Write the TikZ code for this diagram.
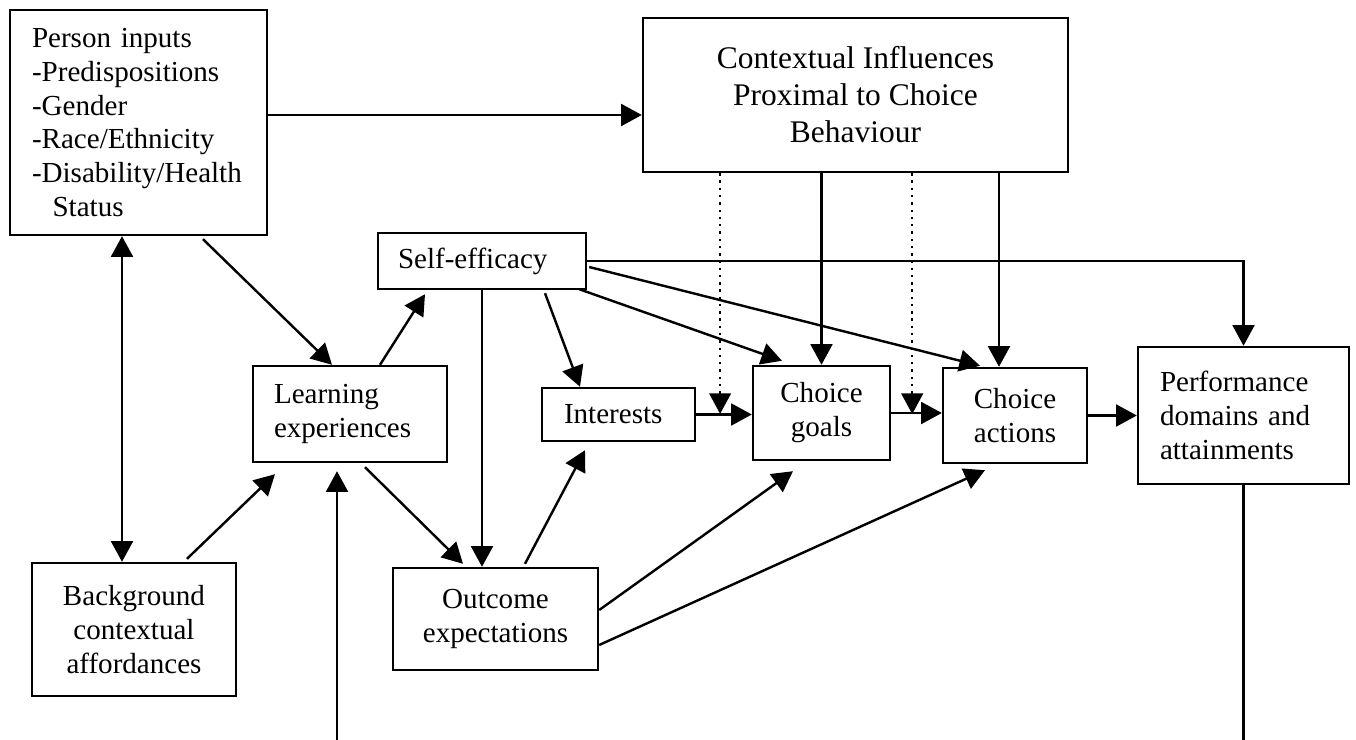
\documentclass[tikz,border=0pt]{standalone}
\usepackage{fontspec}
\setmainfont{Liberation Serif}
\usetikzlibrary{arrows.meta,calc}

\begin{document}
\begin{tikzpicture}[x=0.413pt, y=-0.413pt,
			font=\fontsize{12}{14}\selectfont,
			box/.style={draw, line width=1pt, inner sep=0pt, align=center},
			boxsize/.style 2 args={minimum width=#1*0.413pt, minimum height=#2*0.413pt},
			tw/.style={align=left, text width=#1*0.413pt},
			arr/.style={-{Triangle[length=8.5pt,width=9pt]}, line width=1pt},
			dbl/.style={{Triangle[length=8.5pt,width=9pt]}-{Triangle[length=8.5pt,width=9pt]}, line width=1pt},
			dots/.style={arr, dotted, line width=0.7pt}]
			\useasboundingbox (0,0) rectangle (1356,740);
			\node[box, boxsize={257}{225}, tw=213] (person) at (138.5,122.5) {Person inputs\\-Predispositions\\-Gender\\-Race/Ethnicity\\-Disability/Health\\\hspace*{8.5pt}Status};
			\node[box, boxsize={425}{154}, font=\fontsize{13}{15.3}\selectfont] (ctx) at (855.5,95) {Contextual Influences\\Proximal to Choice\\Behaviour};
			\node[box, boxsize={208}{56}, tw=168] (selfeff) at (482,261) {Self-efficacy};
			\node[box, boxsize={194}{96}, tw=152] (learn) at (350,414) {Learning\\experiences};
			\node[box, boxsize={153}{53}, tw=109] (interests) at (618.5,414.5) {Interests};
			\node[box, boxsize={137}{94}] (goals) at (821.5,413) {Choice\\goals};
			\node[box, boxsize={144}{95}] (actions) at (1015,415.5) {Choice\\actions};
			\node[box, boxsize={211}{137}, tw=167] (perf) at (1243.5,415.5) {Performance\\domains and\\attainments};
			\node[box, boxsize={204}{133}] (backgr) at (134,629.5) {Background\\contextual\\affordances};
			\node[box, boxsize={205}{102}] (outcome) at (495.5,619) {Outcome\\expectations};
			\coordinate (feedL) at (337,740);
			\coordinate (feedR) at (1243.5,740);
			\coordinate (p1) at ($(person.east)+(0,-7.5)$);
			\coordinate (p2) at ($(backgr.north)+(-12,0)$);
			\coordinate (c2) at ($(actions.north)+(-16,0)$);
			\coordinate (d1) at ($(interests.east)!0.43!(goals.west)$);
			\coordinate (d2) at ($(goals.east)!0.415!(actions.west)$);
			\draw[arr] (p1) -- (p1 -| ctx.west);
			\draw[dbl] (p2 |- person.south) -- (p2);
			\draw[arr] ($(person.south)+(64.5,3)$) -- ($(learn.north)+(-18,0)$);
			\draw[arr] ($(backgr.north)+(53,-3)$) -- ($(learn.south)+(-75,11)$);
			\draw[arr] ($(learn.north)+(30,0)$) -- ($(selfeff.south)+(-57,4)$);
			\draw[arr] (feedL) -- ($(learn.south)+(-13,8)$);
			\draw[arr] ($(learn.south)+(15,4)$) -- ($(outcome.north)+(-32.5,-3)$);
			\draw[arr] (selfeff.south) -- (selfeff.south |- outcome.north);
			\draw[arr] ($(outcome.north)+(29.5,-3)$) -- ($(interests.south)+(-33.5,8)$);
			\draw[arr] ($(selfeff.south)+(63,3)$) -- ($(interests.north)+(-38.5,0)$);
			\draw[arr] ($(selfeff.south east)+(-8,-1)$) -- ($(goals.north)+(-39.5,-4)$);
			\draw[arr] ($(selfeff.east)+(2,6)$) -- ($(actions.north)+(-35,-1)$);
			\draw[arr] (selfeff.east) -| (perf.north);
			\draw[arr] (ctx.south -| goals.north) -- (goals.north);
			\draw[arr] (ctx.south -| c2) -- (c2);
			\draw[dots] (ctx.south -| d1) -- (d1);
			\draw[dots] (ctx.south -| d2) -- (d2);
			\draw[arr] (interests.east) -- (interests.east -| goals.west);
			\draw[arr] (goals.east) -- (goals.east -| actions.west);
			\draw[arr] (actions.east) -- (actions.east -| perf.west);
			\draw[arr] ($(outcome.east)+(0,-9)$) -- ($(goals.south)+(-28.5,10)$);
			\draw[arr] ($(outcome.east)+(0,26)$) -- ($(actions.south)+(-30,6)$);
			\draw[line width=1pt] (perf.south) -- (feedR);
		\end{tikzpicture}
\end{document}
